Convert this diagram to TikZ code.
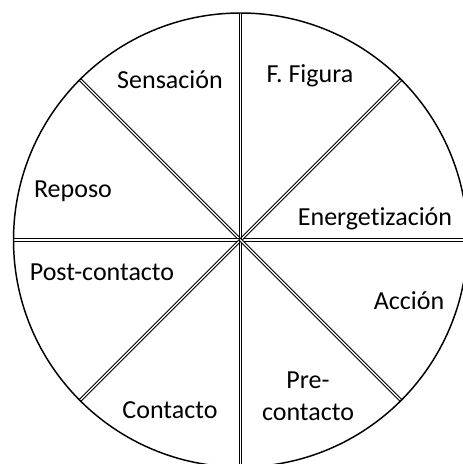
\documentclass[tikz,border=0pt]{standalone}
\usepackage{fontspec}
\setmainfont[Ligatures={NoCommon,NoContextual}, RawFeature={-liga;-clig;-calt}]{Carlito}
\usepackage{tikz}
\usetikzlibrary{calc, positioning}

\tikzset{
    etapa/.style={anchor=base, inner sep=0pt, font=\fontsize{19.5}{24}\selectfont},
    radio/.style={double, double distance=1pt, line width=0.75pt},
}

\begin{document}
\begin{tikzpicture}[x=0.75pt, y=0.75pt]
                        \useasboundingbox (-240.5,-224) rectangle (222.5,240);
                        \coordinate (c) at (0, 0);
                        \foreach \a in {0,45,...,315}
                            \draw[radio] (c) -- ($(c)+(\a:227)$);
                        \draw[line width=1.1pt] (c) circle[radius=227];
                        \node[etapa] (sen) at (-70.5, 151) {Sensación};
                        \node[etapa] (fig) at (69.5, 157) {F. Figura};
                        \node[etapa] (rep) at (-167.5, 42) {Reposo};
                        \node[etapa] (ene) at (134.5, 15) {Energetización};
                        \node[etapa] (pos) at (-138.5, -40) {Post-contacto};
                        \node[etapa] (acc) at (168.5, -69) {Acción};
                        \node[etapa] (con) at (-70.5, -178) {Contacto};
                        \node[etapa, align=center] (pre) at (67.5, -180) {Pre-\\contacto};
                    \end{tikzpicture}
\end{document}
